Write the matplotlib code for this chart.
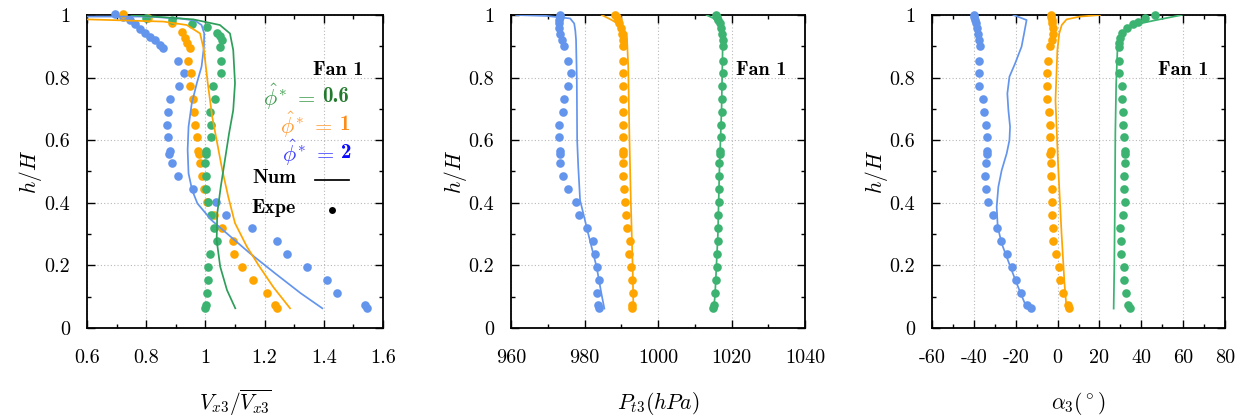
import numpy as np
import matplotlib
matplotlib.use('Agg')
import matplotlib.pyplot as plt
from matplotlib.ticker import MultipleLocator

plt.rcParams.update({
    'font.family': 'serif',
    'font.serif': ['cmr10', 'DejaVu Serif'],
    'mathtext.fontset': 'cm',
    'axes.unicode_minus': False,
})

# ---------------- data ----------------
# common experimental heights (lower part of the profile)
h_expe = [0.063, 0.073, 0.113, 0.153, 0.196, 0.236, 0.279, 0.318, 0.361, 0.401,
          0.444, 0.486, 0.526, 0.556, 0.566, 0.609, 0.649, 0.691, 0.732, 0.773,
          0.816, 0.854]
h_top = [0.90, 0.92, 0.94, 0.96, 0.975, 0.985, 0.993, 1.0]

# Panel 1 : Vx3 / mean(Vx3)
v_blue_expe = [1.545, 1.539, 1.446, 1.410, 1.342, 1.277, 1.241, 1.156, 1.068, 1.036,
               0.957, 0.906, 0.888, 0.878, 0.880, 0.873, 0.869, 0.875, 0.880, 0.912,
               0.928, 0.909]
v_blue_top_h = [0.896, 0.904, 0.920, 0.931, 0.941, 0.954, 0.971, 0.984, 0.995, 1.003]
v_blue_top = [0.856, 0.847, 0.830, 0.813, 0.796, 0.779, 0.762, 0.745, 0.723, 0.695]
v_orange_expe = [1.243, 1.235, 1.207, 1.162, 1.125, 1.097, 1.094, 1.055, 1.030, 1.004,
                 0.995, 0.987, 0.982, 0.978, 0.976, 0.973, 0.965, 0.963, 0.959, 0.948,
                 0.951, 0.942]
v_orange_top_h = [0.893, 0.910, 0.926, 0.947, 0.973, 0.989, 1.003]
v_orange_top = [0.948, 0.937, 0.931, 0.920, 0.886, 0.807, 0.723]
v_green_expe = [1.000, 1.003, 1.007, 1.010, 1.008, 1.015, 1.040, 1.030, 1.020, 1.008,
                1.002, 1.002, 0.999, 1.001, 1.002, 1.019, 1.019, 1.016, 1.032, 1.027,
                1.052, 1.052]
v_green_top_h = [0.899, 0.920, 0.933, 0.941, 0.961, 0.971, 0.984, 0.989]
v_green_top = [1.049, 1.055, 1.049, 1.038, 1.004, 0.954, 0.886, 0.801]

v_blue_num_h = [0.995, 0.995, 0.989, 0.982, 0.968, 0.941, 0.899, 0.835, 0.782, 0.718,
                0.643, 0.569, 0.494, 0.441, 0.398, 0.345, 0.292, 0.239, 0.175, 0.111, 0.063]
v_blue_num = [0.601, 0.802, 0.914, 0.965, 0.987, 0.996, 0.995, 0.987, 0.971, 0.954,
              0.943, 0.940, 0.943, 0.955, 0.973, 1.020, 1.085, 1.150, 1.235, 1.322, 1.395]
v_orange_num_h = [0.986, 0.979, 0.968, 0.941, 0.888, 0.782, 0.675, 0.590, 0.505, 0.420,
                  0.335, 0.260, 0.200, 0.130, 0.063]
v_orange_num = [0.601, 0.858, 0.937, 0.982, 0.995, 1.008, 1.023, 1.040, 1.057, 1.077,
                1.100, 1.140, 1.180, 1.230, 1.286]
v_green_num_h = [1.0, 0.986, 0.968, 0.941, 0.888, 0.782, 0.696, 0.622, 0.537, 0.452,
                 0.366, 0.281, 0.196, 0.121, 0.063]
v_green_num = [0.750, 0.959, 1.049, 1.083, 1.094, 1.100, 1.094, 1.080, 1.066, 1.052,
               1.040, 1.038, 1.050, 1.073, 1.101]

# Panel 2 : Pt3 (hPa)
p_blue_expe = [983.9, 983.8, 983.5, 984.0, 983.5, 982.9, 982.2, 980.6, 978.6, 977.7,
               975.6, 974.1, 973.3, 973.2, 973.2, 973.1, 973.1, 974.1, 974.4, 975.6,
               976.2, 975.6]
p_blue_top = [974.3, 973.8, 973.3, 973.0, 973.0, 973.1, 973.2, 973.2]
p_orange_expe = [992.8, 992.8, 993.1, 992.9, 992.6, 992.2, 992.4, 991.5, 991.3, 991.0,
                 990.7, 990.6, 990.6, 990.4, 990.4, 990.6, 990.4, 990.6, 990.6, 990.4,
                 990.6, 990.6]
p_orange_top = [990.4, 990.4, 990.2, 989.8, 989.5, 989.2, 988.8, 988.3]
p_green_expe = [1015.1, 1015.2, 1015.5, 1015.7, 1016.0, 1016.1, 1016.3, 1016.4, 1016.4,
                1016.6, 1016.6, 1016.7, 1016.7, 1016.9, 1016.9, 1017.1, 1017.1, 1017.3,
                1017.3, 1017.3, 1017.6, 1017.6]
p_green_top = [1017.6, 1017.6, 1017.4, 1017.1, 1016.8, 1016.4, 1016.1, 1015.8]

p_blue_num_h = [1.0, 0.997, 0.989, 0.973, 0.950, 0.920, 0.800, 0.600, 0.515, 0.408,
                0.302, 0.195, 0.110, 0.062]
p_blue_num = [961.4, 969.7, 976.1, 977.2, 977.5, 977.7, 977.9, 978.0, 978.3, 978.8,
              981.0, 983.3, 984.6, 985.4]
p_orange_num_h = [1.0, 0.984, 0.968, 0.941, 0.835, 0.622, 0.408, 0.195, 0.062]
p_orange_num = [984.7, 987.4, 989.7, 991.5, 991.9, 992.2, 992.6, 993.1, 993.3]
p_green_num_h = [1.0, 0.990, 0.970, 0.940, 0.900, 0.700, 0.500, 0.300, 0.100, 0.062]
p_green_num = [1013.2, 1015.0, 1016.5, 1017.4, 1017.6, 1017.3, 1016.7, 1016.3, 1015.5, 1015.1]

# Panel 3 : alpha3 (deg)
a_blue_expe = [-12.9, -14.8, -17.6, -19.9, -21.9, -24.0, -27.0, -28.8, -31.0, -33.4,
               -34.2, -34.7, -34.2, -33.6, -33.6, -33.9, -34.2, -35.2, -35.5, -37.4,
               -37.5, -37.4]
a_blue_top = [-37.1, -37.6, -38.2, -38.7, -39.1, -39.4, -39.7, -39.9]
a_orange_expe = [5.6, 5.1, 2.75, 1.16, 0.84, -0.75, -2.0, -2.0, -2.8, -2.8, -2.8, -3.1,
                 -3.3, -3.6, -3.3, -3.6, -3.6, -3.9, -4.9, -5.2, -5.2, -4.7]
a_orange_top = [-3.6, -2.9, -2.3, -2.2, -2.5, -2.9, -3.2, -3.3]
a_green_expe = [34.6, 33.8, 32.7, 31.7, 31.7, 30.5, 30.1, 29.8, 31.1, 32.2, 31.7, 31.7,
                32.2, 32.2, 32.2, 31.7, 31.4, 31.1, 30.6, 30.6, 29.5, 29.5]
a_green_top_h = [0.899, 0.909, 0.925, 0.941, 0.957, 0.971, 0.979, 0.989, 1.0]
a_green_top = [29.5, 29.5, 29.8, 30.6, 33.0, 36.2, 38.6, 41.8, 46.5]

a_blue_num_h = [1.0, 0.984, 0.941, 0.899, 0.845, 0.803, 0.749, 0.696, 0.643, 0.600,
                0.558, 0.504, 0.451, 0.387, 0.323, 0.270, 0.227, 0.184, 0.142, 0.110,
                0.078, 0.062]
a_blue_num = [-21.1, -14.8, -16.0, -17.2, -20.3, -23.0, -24.0, -23.5, -22.7, -23.0,
              -24.3, -26.7, -28.3, -29.1, -28.6, -26.7, -24.3, -21.9, -19.5, -17.6,
              -15.6, -12.9]
a_orange_num_h = [1.0, 0.995, 0.986, 0.968, 0.941, 0.888, 0.728, 0.515, 0.302, 0.142, 0.062]
a_orange_num = [20.3, 10.7, 4.3, 2.0, 0.8, -0.1, -1.0, 0.3, 1.9, 3.3, 4.3]
a_green_num_h = [1.0, 0.982, 0.968, 0.941, 0.888, 0.781, 0.622, 0.408, 0.195, 0.062]
a_green_num = [59.3, 45.8, 36.2, 30.6, 28.6, 28.0, 27.6, 27.4, 27.1, 26.8]

# axes / ticks
y_ticks = [0, 0.2, 0.4, 0.6, 0.8, 1.0]
y_tick_labels = ['0', '0.2', '0.4', '0.6', '0.8', '1']
x1_ticks = [0.6, 0.8, 1.0, 1.2, 1.4, 1.6]
x1_tick_labels = ['0.6', '0.8', '1', '1.2', '1.4', '1.6']
x2_ticks = [960, 980, 1000, 1020, 1040]
x2_tick_labels = ['960', '980', '1000', '1020', '1040']
x3_ticks = [-60, -40, -20, 0, 20, 40, 60, 80]
x3_tick_labels = ['-60', '-40', '-20', '0', '20', '40', '60', '80']

legend_phi_values = ['0.6', '1', '2']

BLUE = '#6495ED'
ORANGE = '#FFA500'
GREEN = '#3CB371'

# ---------------- figure ----------------
fig = plt.figure(figsize=(12.55, 4.19), dpi=100)
ax_rects = [
    [87 / 1255, 91 / 419, 296 / 1255, 313 / 419],
    [511 / 1255, 91 / 419, 294 / 1255, 313 / 419],
    [932 / 1255, 91 / 419, 293 / 1255, 313 / 419],
]
axes = [fig.add_axes(r) for r in ax_rects]

TICK_FS = 14.5
LABEL_FS = 15.5
MS = 6.2
LW = 1.25
TXT_FS = 14.5
BOLD = 'cmb10'


def style(ax, xlim, xt, xtl, xminor, xlabel):
    ax.set_xlim(*xlim)
    ax.set_ylim(0, 1)
    ax.set_xticks(xt, xtl)
    ax.set_yticks(y_ticks, y_tick_labels)
    ax.xaxis.set_minor_locator(MultipleLocator(xminor))
    ax.yaxis.set_minor_locator(MultipleLocator(0.1))
    ax.tick_params(which='both', direction='in', top=True, right=True,
                   width=1.0, color='black')
    ax.tick_params(which='major', length=5.5)
    ax.tick_params(which='minor', length=3)
    ax.tick_params(axis='x', which='major', pad=15, labelsize=TICK_FS)
    ax.tick_params(axis='y', which='major', pad=12, labelsize=TICK_FS)
    ax.grid(True, which='major', color='#b8b8b8', linestyle=(0, (1, 2)), linewidth=0.8)
    for s in ax.spines.values():
        s.set_linewidth(1.3)
    ax.set_xlabel(xlabel, fontsize=LABEL_FS, va='center')
    ax.xaxis.set_label_coords(0.5, -0.24)
    ax.set_ylabel(r'$h/H$', fontsize=LABEL_FS, va='center')
    ax.yaxis.set_label_coords(-0.19, 0.5)


def expe(ax, x_low, x_top, h_t, color):
    ax.plot(x_low, h_expe, 'o', color=color, ms=MS, mew=0, clip_on=False, zorder=3)
    ax.plot(x_top, h_t, 'o', color=color, ms=MS, mew=0, clip_on=False, zorder=3)


def num(ax, x, h, color):
    ax.plot(x, h, '-', color=color, lw=LW, zorder=4)


def fan_label(ax, x, y):
    ax.text(x, y, 'Fan 1', transform=ax.transAxes, ha='right', va='center',
            fontsize=TXT_FS, family=BOLD)


def phi_label(ax, x, y, value, color_sym, color_val):
    t = ax.text(x, y, value, transform=ax.transAxes, ha='right', va='center',
                fontsize=TXT_FS + 0.5, family=BOLD, color=color_val)
    ax.annotate(r'$\hat{\phi\,}^{\!\!*} \,=$', xy=(0, 0.5), xycoords=t, ha='right',
                va='center', fontsize=TXT_FS + 1.5, color=color_sym,
                xytext=(-5, 0), textcoords='offset points')


# Panel 1
ax = axes[0]
style(ax, (0.6, 1.6), x1_ticks, x1_tick_labels, 0.1, r'$V_{x3}/\overline{V_{x3}}$')
expe(ax, v_blue_expe, v_blue_top, v_blue_top_h, BLUE)
expe(ax, v_orange_expe, v_orange_top, v_orange_top_h, ORANGE)
expe(ax, v_green_expe, v_green_top, v_green_top_h, GREEN)
num(ax, v_blue_num, v_blue_num_h, BLUE)
num(ax, v_orange_num, v_orange_num_h, ORANGE)
num(ax, v_green_num, v_green_num_h, '#2E9E5B')

fan_label(ax, 0.933, 0.824)
phi_label(ax, 0.885, 0.739, legend_phi_values[0], '#3A9A4A', '#237A2E')
phi_label(ax, 0.889, 0.649, legend_phi_values[1], '#FF9A33', '#FF8C1A')
phi_label(ax, 0.894, 0.560, legend_phi_values[2], '#3A3AFF', '#0A0AFF')
ax.text(0.56, 0.478, 'Num', transform=ax.transAxes, ha='left',
        va='center', fontsize=TXT_FS, family=BOLD)
ax.plot([0.77, 0.886], [0.472, 0.472], '-', color='black', lw=LW,
        transform=ax.transAxes, clip_on=False)
ax.text(0.556, 0.382, 'Expe', transform=ax.transAxes, ha='left',
        va='center', fontsize=TXT_FS, family=BOLD)
ax.plot([0.827], [0.378], 'o', color='black', ms=5, mew=0,
        transform=ax.transAxes, clip_on=False)

# Panel 2
ax = axes[1]
style(ax, (960, 1040), x2_ticks, x2_tick_labels, 10, r'$P_{t3}(hPa)$')
expe(ax, p_blue_expe, p_blue_top, h_top, BLUE)
expe(ax, p_orange_expe, p_orange_top, h_top, ORANGE)
expe(ax, p_green_expe, p_green_top, h_top, GREEN)
num(ax, p_blue_num, p_blue_num_h, BLUE)
num(ax, p_orange_num, p_orange_num_h, ORANGE)
num(ax, p_green_num, p_green_num_h, GREEN)
fan_label(ax, 0.935, 0.824)

# Panel 3
ax = axes[2]
style(ax, (-60, 80), x3_ticks, x3_tick_labels, 10, r'$\alpha_3(^\circ)$')
expe(ax, a_blue_expe, a_blue_top, h_top, BLUE)
expe(ax, a_orange_expe, a_orange_top, h_top, ORANGE)
expe(ax, a_green_expe, a_green_top, a_green_top_h, GREEN)
num(ax, a_blue_num, a_blue_num_h, BLUE)
num(ax, a_orange_num, a_orange_num_h, ORANGE)
num(ax, a_green_num, a_green_num_h, GREEN)
fan_label(ax, 0.943, 0.824)

fig.savefig('out.png', dpi=100)
